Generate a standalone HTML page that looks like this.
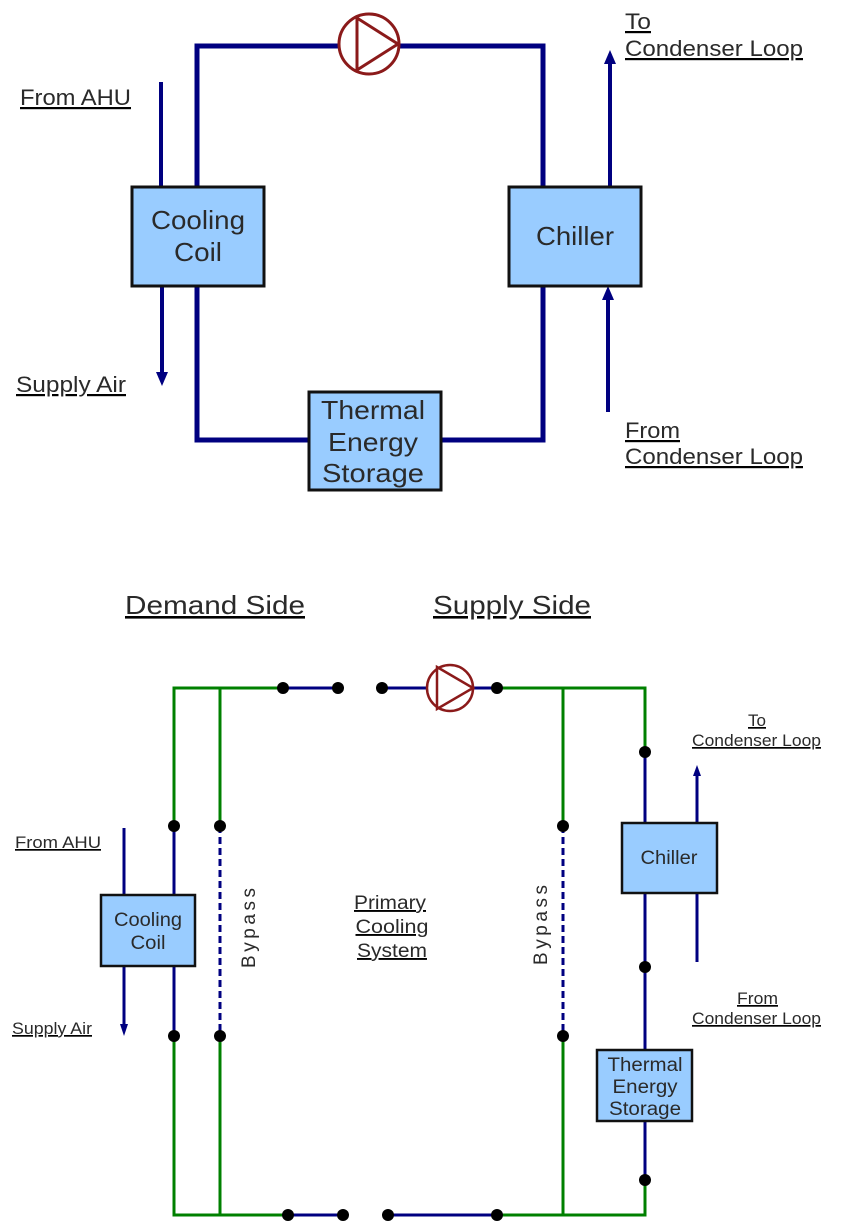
<!DOCTYPE html>
<html><head><meta charset="utf-8"><style>
html,body{margin:0;padding:0;background:#fff}
svg{display:block}
text{font-family:"Liberation Sans",sans-serif;fill:#2a2a2a}
</style></head><body>
<svg width="845" height="1228" viewBox="0 0 845 1228" xmlns="http://www.w3.org/2000/svg">
<!-- TOP DIAGRAM -->
<g stroke="#000080" stroke-width="5" fill="none">
<polyline points="197,186 197,46 543,46 543,186"/>
<polyline points="197,287 197,440 543,440 543,287"/>
</g>
<g stroke="#000080" stroke-width="4" fill="none">
<line x1="161" y1="82" x2="161" y2="186"/>
<line x1="162" y1="287" x2="162" y2="375"/>
<line x1="610" y1="186" x2="610" y2="60"/>
<line x1="608" y1="412" x2="608" y2="297"/>
</g>
<path d="M156,372 L162,386 L168,372 Z" fill="#000080"/>
<path d="M604,64 L610,50 L616,64 Z" fill="#000080"/>
<path d="M602,300 L608,286 L614,300 Z" fill="#000080"/>
<ellipse cx="369" cy="44" rx="30" ry="30" fill="#fff" stroke="#8b1a1a" stroke-width="3"/>
<path d="M357,18 L398,44 L357,70 Z" fill="none" stroke="#8b1a1a" stroke-width="3"/>
<g fill="#99ccff" stroke="#111" stroke-width="3">
<rect x="132" y="187" width="132" height="99"/>
<rect x="509" y="187" width="132" height="99"/>
<rect x="309" y="392" width="132" height="98"/>
</g>
<g font-size="26" text-anchor="middle">
<text x="198" y="229" textLength="94" lengthAdjust="spacingAndGlyphs">Cooling</text>
<text x="198" y="261" textLength="48" lengthAdjust="spacingAndGlyphs">Coil</text>
<text x="575" y="245" textLength="78" lengthAdjust="spacingAndGlyphs">Chiller</text>
<text x="373" y="419" textLength="104" lengthAdjust="spacingAndGlyphs">Thermal</text>
<text x="373" y="451" textLength="90" lengthAdjust="spacingAndGlyphs">Energy</text>
<text x="373" y="482" textLength="102" lengthAdjust="spacingAndGlyphs">Storage</text>
</g>
<g font-size="22" text-decoration="underline">
<text x="20" y="105" textLength="111" lengthAdjust="spacingAndGlyphs">From AHU</text>
<text x="16" y="392" textLength="110" lengthAdjust="spacingAndGlyphs">Supply Air</text>
<text x="625" y="29" textLength="26" lengthAdjust="spacingAndGlyphs">To</text>
<text x="625" y="56" textLength="178" lengthAdjust="spacingAndGlyphs">Condenser Loop</text>
<text x="625" y="438" textLength="55" lengthAdjust="spacingAndGlyphs">From</text>
<text x="625" y="464" textLength="178" lengthAdjust="spacingAndGlyphs">Condenser Loop</text>
</g>
<!-- BOTTOM DIAGRAM -->
<g font-size="26" text-decoration="underline">
<text x="125" y="614" textLength="180" lengthAdjust="spacingAndGlyphs">Demand Side</text>
<text x="433" y="614" textLength="158" lengthAdjust="spacingAndGlyphs">Supply Side</text>
</g>
<g stroke="#008000" stroke-width="3" fill="none">
<polyline points="174,826 174,688 283,688"/>
<line x1="220" y1="688" x2="220" y2="826"/>
<polyline points="497,688 645,688 645,752"/>
<line x1="563" y1="688" x2="563" y2="826"/>
<polyline points="174,1036 174,1215 288,1215"/>
<line x1="220" y1="1036" x2="220" y2="1215"/>
<polyline points="497,1215 645,1215 645,1180"/>
<line x1="563" y1="1036" x2="563" y2="1215"/>
</g>
<g stroke="#000080" stroke-width="3" fill="none">
<line x1="283" y1="688" x2="338" y2="688"/>
<line x1="382" y1="688" x2="497" y2="688"/>
<line x1="288" y1="1215" x2="343" y2="1215"/>
<line x1="388" y1="1215" x2="497" y2="1215"/>
<line x1="174" y1="826" x2="174" y2="1036"/>
<line x1="645" y1="752" x2="645" y2="1180"/>
<line x1="124" y1="828" x2="124" y2="1025"/>
<line x1="697" y1="822" x2="697" y2="775"/>
<line x1="697" y1="893" x2="697" y2="962"/>
<line x1="220" y1="826" x2="220" y2="1036" stroke-dasharray="7,4"/>
<line x1="563" y1="826" x2="563" y2="1036" stroke-dasharray="7,4"/>
</g>
<path d="M120,1024 L124,1036 L128,1024 Z" fill="#000080"/>
<path d="M693,776 L697,765 L701,776 Z" fill="#000080"/>
<g fill="#000">
<circle cx="283" cy="688" r="6"/><circle cx="338" cy="688" r="6"/><circle cx="382" cy="688" r="6"/><circle cx="497" cy="688" r="6"/>
<circle cx="288" cy="1215" r="6"/><circle cx="343" cy="1215" r="6"/><circle cx="388" cy="1215" r="6"/><circle cx="497" cy="1215" r="6"/>
<circle cx="174" cy="826" r="6"/><circle cx="220" cy="826" r="6"/><circle cx="563" cy="826" r="6"/>
<circle cx="174" cy="1036" r="6"/><circle cx="220" cy="1036" r="6"/><circle cx="563" cy="1036" r="6"/>
<circle cx="645" cy="752" r="6"/><circle cx="645" cy="967" r="6"/><circle cx="645" cy="1180" r="6"/>
</g>
<circle cx="450" cy="688" r="23" fill="#fff" stroke="#8b1a1a" stroke-width="2.5"/>
<path d="M437,667 L473,688 L437,709 Z" fill="none" stroke="#8b1a1a" stroke-width="2.5"/>
<g fill="#99ccff" stroke="#111" stroke-width="2.5">
<rect x="101" y="895" width="94" height="71"/>
<rect x="622" y="823" width="95" height="70"/>
<rect x="597" y="1050" width="95" height="71"/>
</g>
<g font-size="19" text-anchor="middle">
<text x="148" y="926" textLength="68" lengthAdjust="spacingAndGlyphs">Cooling</text>
<text x="148" y="949" textLength="35" lengthAdjust="spacingAndGlyphs">Coil</text>
<text x="669" y="864" textLength="57" lengthAdjust="spacingAndGlyphs">Chiller</text>
<text x="645" y="1071" textLength="75" lengthAdjust="spacingAndGlyphs">Thermal</text>
<text x="645" y="1093" textLength="65" lengthAdjust="spacingAndGlyphs">Energy</text>
<text x="645" y="1115" textLength="72" lengthAdjust="spacingAndGlyphs">Storage</text>
</g>
<g font-size="19" text-decoration="underline" text-anchor="middle">
<text x="390" y="909" textLength="72" lengthAdjust="spacingAndGlyphs">Primary</text>
<text x="392" y="933" textLength="73" lengthAdjust="spacingAndGlyphs">Cooling</text>
<text x="392" y="957" textLength="70" lengthAdjust="spacingAndGlyphs">System</text>
</g>
<g font-size="19" text-anchor="middle">
<text transform="translate(255,928) rotate(-90)" textLength="80" lengthAdjust="spacing">Bypass</text>
<text transform="translate(547,925) rotate(-90)" textLength="80" lengthAdjust="spacing">Bypass</text>
</g>
<g font-size="17" text-decoration="underline">
<text x="15" y="848" textLength="86" lengthAdjust="spacingAndGlyphs">From  AHU</text>
<text x="12" y="1034" textLength="80" lengthAdjust="spacingAndGlyphs">Supply Air</text>
<text x="748" y="726" textLength="18" lengthAdjust="spacingAndGlyphs">To</text>
<text x="692" y="746" textLength="129" lengthAdjust="spacingAndGlyphs">Condenser Loop</text>
<text x="737" y="1004" textLength="41" lengthAdjust="spacingAndGlyphs">From</text>
<text x="692" y="1024" textLength="129" lengthAdjust="spacingAndGlyphs">Condenser Loop</text>
</g>
</svg>
</body></html>
